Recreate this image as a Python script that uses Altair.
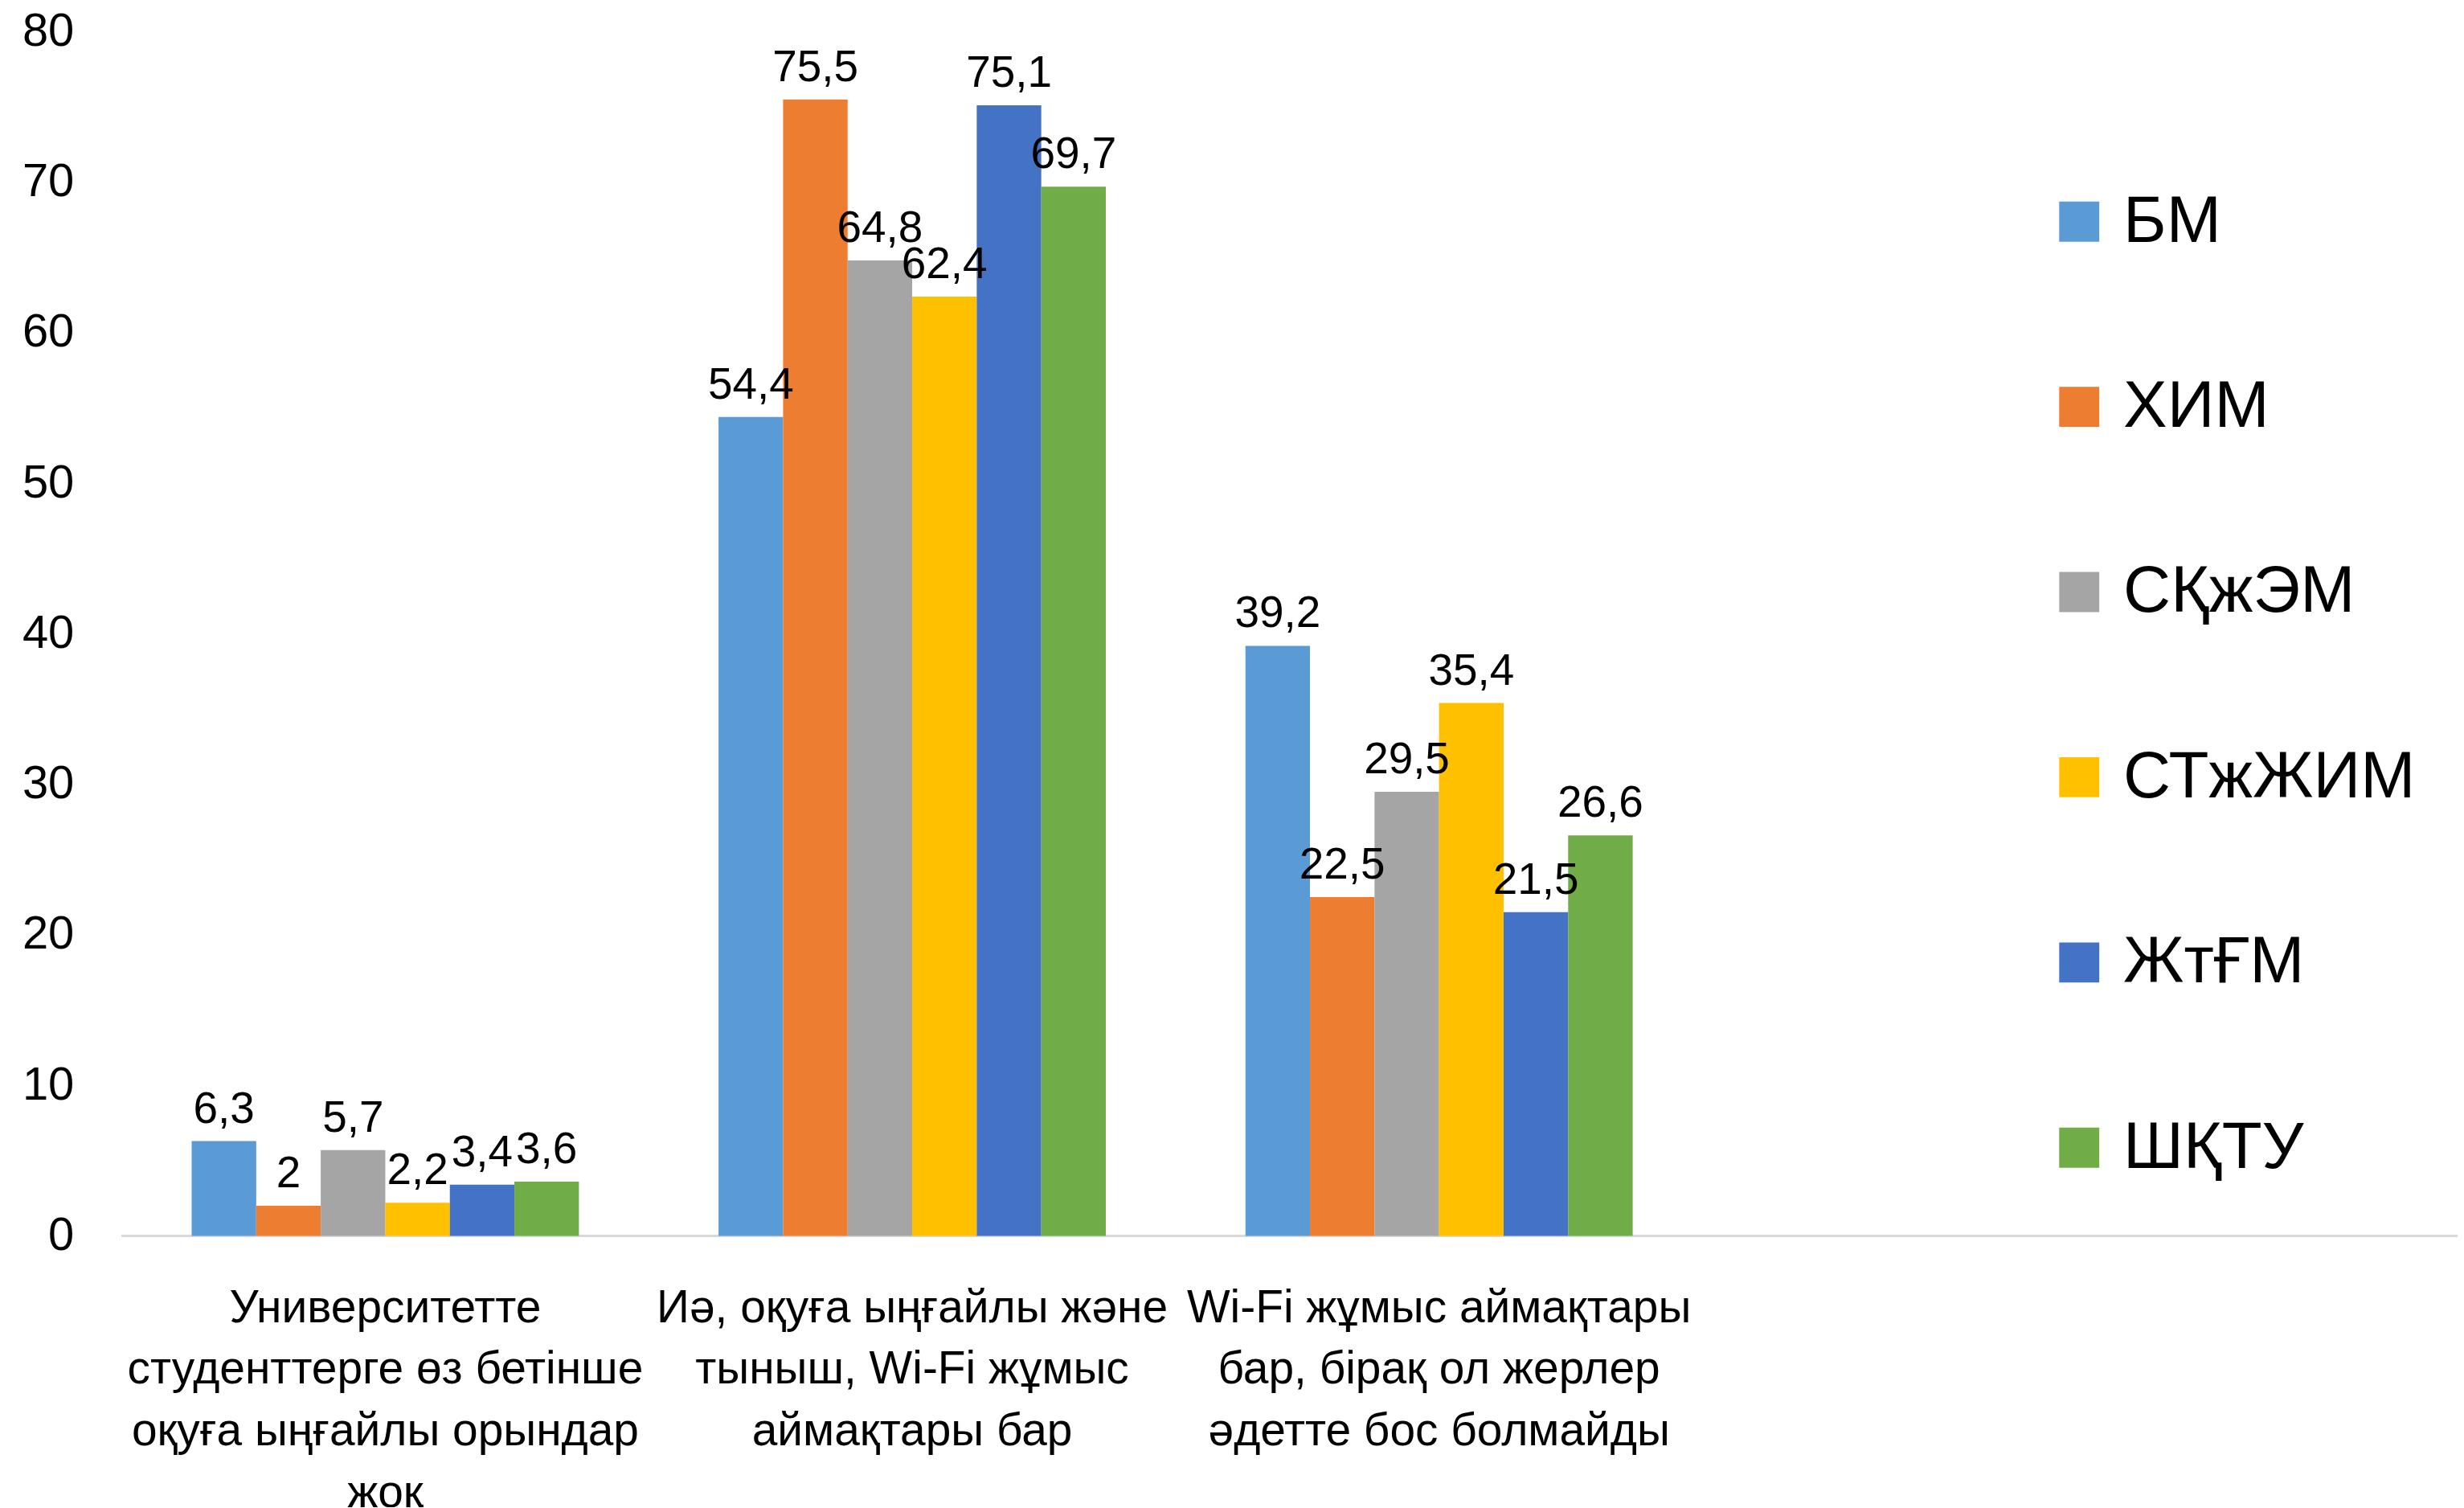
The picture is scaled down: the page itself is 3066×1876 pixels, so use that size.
import altair as alt
import pandas as pd

categories = [
    "Университетте\nстуденттерге өз бетінше\nоқуға ыңғайлы орындар\nжоқ",
    "Иә, оқуға ыңғайлы және\nтыныш, Wi-Fi жұмыс\nаймақтары бар",
    "Wi-Fi жұмыс аймақтары\nбар, бірақ ол жерлер\nәдетте бос болмайды",
]
series = ["БМ", "ХИМ", "СҚжЭМ", "СТжЖИМ", "ЖтҒМ", "ШҚТУ"]
colors = ["#5B9BD5", "#ED7D31", "#A5A5A5", "#FFC000", "#4472C4", "#70AD47"]

bm = [6.3, 54.4, 39.2]
khim = [2, 75.5, 22.5]
skzhem = [5.7, 64.8, 29.5]
stzhzhim = [2.2, 62.4, 35.4]
zhtgm = [3.4, 75.1, 21.5]
shktu = [3.6, 69.7, 26.6]

values = [bm, khim, skzhem, stzhzhim, zhtgm, shktu]
rows = []
for s, vals in zip(series, values):
    for c, v in zip(categories, vals):
        rows.append({"category": c, "series": s, "value": v})
df = pd.DataFrame(rows)

FONT = "Liberation Sans"

x_enc = alt.X(
    "category:N",
    sort=categories,
    scale=alt.Scale(range=[0, 1972], paddingInner=0.265, paddingOuter=0.1325),
    axis=alt.Axis(
        title=None, domain=False, ticks=False, labelAngle=0,
        labelExpr="split(datum.label, '\\n')",
        labelFont=FONT, labelFontSize=57, labelLineHeight=77,
        labelColor="#000000", labelPadding=62, labelLimit=1000,
        labelBaseline="top",
    ),
)
xo_enc = alt.XOffset("series:N", sort=series, scale=alt.Scale(paddingInner=0, paddingOuter=0))
y_scale = alt.Scale(domain=[0, 80], nice=False)

base = alt.Chart(df)

rule = alt.Chart(df).mark_rule(color="#D9D9D9", strokeWidth=3).encode(
    y=alt.datum(0, scale=y_scale)
)

bars = base.mark_bar().encode(
    x=x_enc,
    xOffset=xo_enc,
    y=alt.Y(
        "value:Q", scale=y_scale,
        axis=alt.Axis(
            title=None, values=list(range(0, 81, 10)), domain=False, ticks=False,
            grid=False, labelFont=FONT, labelFontSize=58, labelColor="#000000",
            labelPadding=60,
        ),
    ),
    color=alt.Color(
        "series:N", sort=series,
        scale=alt.Scale(domain=series, range=colors),
        legend=alt.Legend(
            title=None, orient="none", legendX=2401, legendY=196,
            symbolType="square", symbolSize=2500, symbolStrokeWidth=0,
            labelFont=FONT, labelFontSize=82, labelColor="#000000",
            rowPadding=149, labelOffset=14, padding=0, labelLimit=1000,
        ),
    ),
)

labels = base.transform_calculate(
    lbl="replace(toString(datum.value), '.', ',')"
).mark_text(
    font=FONT, fontSize=55, color="#000000", baseline="alphabetic", dy=-23
).encode(
    x=alt.X("category:N", sort=categories),
    xOffset=alt.XOffset("series:N", sort=series),
    y=alt.Y("value:Q", scale=y_scale),
    text="lbl:N",
)

chart = alt.layer(rule, bars, labels).properties(
    width=2914, height=1502,
    autosize=alt.AutoSizeParams(type="none"),
    padding={"left": 144, "top": 29, "right": 0, "bottom": 336},
    background="#FFFFFF",
).configure_view(stroke=None)

chart.save("out.html", embed_options={"renderer": "svg", "actions": False})
